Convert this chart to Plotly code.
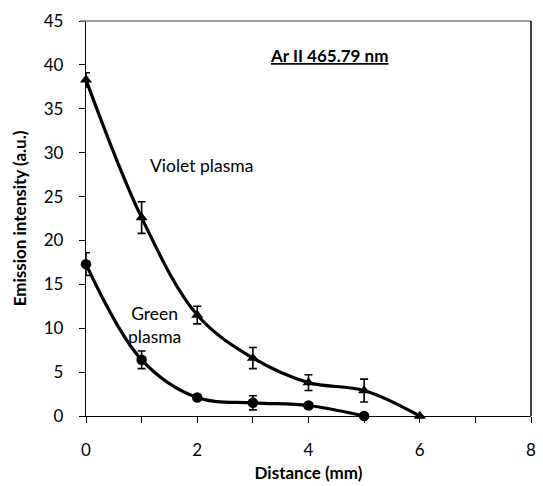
import plotly.graph_objects as go

distance_violet = [0, 1, 2, 3, 4, 5, 6]
violet = [38.3, 22.6, 11.5, 6.6, 3.8, 2.9, 0.0]
violet_err = [0.8, 1.8, 1.0, 1.2, 0.9, 1.3, 0.0]

distance_green = [0, 1, 2, 3, 4, 5]
green = [17.3, 6.4, 2.1, 1.5, 1.2, 0.0]
green_err = [1.3, 1.0, 0.3, 0.8, 0.3, 0.0]

x_ticks = [0, 1, 2, 3, 4, 5, 6, 7, 8]
x_labels = ["0", "", "2", "", "4", "", "6", "", "8"]

FONT = "Lato, 'Open Sans', sans-serif"

fig = go.Figure()
for xs, ys, es, sym in [(distance_violet, violet, violet_err, "triangle-up"),
                        (distance_green, green, green_err, "circle")]:
    fig.add_trace(go.Scatter(
        x=xs, y=ys, mode="lines+markers",
        line=dict(color="black", width=3.2, shape="spline", smoothing=1.0),
        marker=dict(symbol=sym, size=10.5, color="black"),
        error_y=dict(type="data", array=es, visible=True, color="black",
                     thickness=1.6, width=4),
        showlegend=False, cliponaxis=False,
    ))

fig.update_layout(
    width=543, height=486,
    margin=dict(l=86, r=7, t=21, b=69),
    paper_bgcolor="white", plot_bgcolor="white",
    font=dict(family=FONT, color="black", size=17),
    xaxis=dict(range=[0, 8], tickvals=x_ticks, ticktext=x_labels,
               ticks="outside", ticklen=6, tickcolor="black", tickwidth=1,
               showline=True, linecolor="black", linewidth=1.3,
               showgrid=False, zeroline=False, ticklabelstandoff=12,
               tickfont=dict(size=17),
               title=dict(text="<b>Distance (mm)</b>", font=dict(size=17), standoff=8)),
    yaxis=dict(range=[0, 45], dtick=5, ticks="outside", ticklen=6,
               tickcolor="black", tickwidth=1,
               showline=True, linecolor="black", linewidth=1.3,
               showgrid=False, zeroline=False, ticklabelstandoff=12,
               tickfont=dict(size=17),
               title=dict(text="<b>Emission intensity (a.u.)</b>", font=dict(size=17), standoff=12)),
    shapes=[
        dict(type="line", xref="paper", yref="paper", x0=-6/450, x1=1, y0=1, y1=1,
             line=dict(color="#808080", width=1.5)),
        dict(type="line", xref="paper", yref="paper", x0=1, x1=1, y0=0, y1=1,
             line=dict(color="black", width=1.5)),
    ],
    annotations=[
        dict(text="<b><u>Ar II 465.79 nm</u></b>", x=4.37, y=41.1, xref="x", yref="y",
             showarrow=False, font=dict(size=17)),
        dict(text="Violet plasma", x=2.08, y=28.5, xref="x", yref="y",
             showarrow=False, font=dict(size=17.5)),
        dict(text="Green<br>plasma", x=1.23, y=10.4, xref="x", yref="y",
             showarrow=False, font=dict(size=17.5), align="center"),
    ],
)

fig.write_html("out.html")
